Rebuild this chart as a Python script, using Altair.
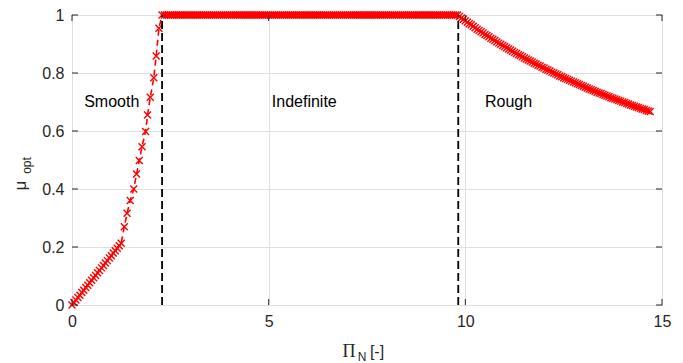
import altair as alt
import pandas as pd

# ---- data ----
smooth_x = [0.00, 0.05, 0.10, 0.15, 0.20, 0.25, 0.30, 0.35, 0.40, 0.45, 0.50, 0.55, 0.60,
            0.65, 0.70, 0.75, 0.80, 0.85, 0.90, 0.95, 1.00, 1.05, 1.10, 1.15, 1.20, 1.25,
            1.33, 1.40, 1.48, 1.57, 1.64, 1.71, 1.78, 1.87, 1.92, 1.99, 2.08, 2.14, 2.21]
smooth_y = [0.000, 0.009, 0.017, 0.026, 0.034, 0.043, 0.051, 0.060, 0.068, 0.077, 0.085,
            0.094, 0.102, 0.111, 0.119, 0.128, 0.136, 0.145, 0.153, 0.162, 0.170, 0.179,
            0.187, 0.196, 0.204, 0.213,
            0.270, 0.316, 0.360, 0.400, 0.452, 0.498, 0.546, 0.598, 0.655, 0.716, 0.784,
            0.859, 0.954]

flat_x = [2.29, 2.4, 2.5, 2.6, 2.7, 2.8, 2.9, 3.0, 3.1, 3.2, 3.3, 3.4, 3.5, 3.6, 3.7, 3.8,
          3.9, 4.0, 4.1, 4.2, 4.3, 4.4, 4.5, 4.6, 4.7, 4.8, 4.9, 5.0, 5.1, 5.2, 5.3, 5.4,
          5.5, 5.6, 5.7, 5.8, 5.9, 6.0, 6.1, 6.2, 6.3, 6.4, 6.5, 6.6, 6.7, 6.8, 6.9, 7.0,
          7.1, 7.2, 7.3, 7.4, 7.5, 7.6, 7.7, 7.8, 7.9, 8.0, 8.1, 8.2, 8.3, 8.4, 8.5, 8.6,
          8.7, 8.8, 8.9, 9.0, 9.1, 9.2, 9.3, 9.4, 9.5, 9.6, 9.7, 9.8,
          2.35, 2.45, 2.55, 2.65, 2.75, 2.85, 2.95, 3.05, 3.15, 3.25, 3.35, 3.45, 3.55,
          3.65, 3.75, 3.85, 3.95, 4.05, 4.15, 4.25, 4.35, 4.45, 4.55, 4.65, 4.75, 4.85,
          4.95, 5.05, 5.15, 5.25, 5.35, 5.45, 5.55, 5.65, 5.75, 5.85, 5.95, 6.05, 6.15,
          6.25, 6.35, 6.45, 6.55, 6.65, 6.75, 6.85, 6.95, 7.05, 7.15, 7.25, 7.35, 7.45,
          7.55, 7.65, 7.75, 7.85, 7.95, 8.05, 8.15, 8.25, 8.35, 8.45, 8.55, 8.65, 8.75,
          8.85, 8.95, 9.05, 9.15, 9.25, 9.35, 9.45, 9.55, 9.65, 9.75]
flat_y = [1.0] * len(flat_x)

rough_x = [9.9, 10.0, 10.1, 10.2, 10.3, 10.4, 10.5, 10.6, 10.7, 10.8, 10.9, 11.0, 11.1,
           11.2, 11.3, 11.4, 11.5, 11.6, 11.7, 11.8, 11.9, 12.0, 12.1, 12.2, 12.3, 12.4,
           12.5, 12.6, 12.7, 12.8, 12.9, 13.0, 13.1, 13.2, 13.3, 13.4, 13.5, 13.6, 13.7,
           13.8, 13.9, 14.0, 14.1, 14.2, 14.3, 14.4, 14.5, 14.6, 14.7,
           9.85, 9.95, 10.05, 10.15, 10.25, 10.35, 10.45, 10.55, 10.65, 10.75, 10.85,
           10.95, 11.05, 11.15, 11.25, 11.35, 11.45, 11.55, 11.65, 11.75, 11.85, 11.95,
           12.05, 12.15, 12.25, 12.35, 12.45, 12.55, 12.65, 12.75, 12.85, 12.95, 13.05,
           13.15, 13.25, 13.35, 13.45, 13.55, 13.65, 13.75, 13.85, 13.95, 14.05, 14.15,
           14.25, 14.35, 14.45, 14.55, 14.65]
rough_y = [0.990, 0.980, 0.970, 0.961, 0.951, 0.942, 0.933, 0.925, 0.916, 0.907, 0.899,
           0.891, 0.883, 0.875, 0.867, 0.860, 0.852, 0.845, 0.838, 0.831, 0.824, 0.817,
           0.810, 0.803, 0.797, 0.790, 0.784, 0.778, 0.772, 0.766, 0.760, 0.754, 0.748,
           0.742, 0.737, 0.731, 0.726, 0.721, 0.715, 0.710, 0.705, 0.700, 0.695, 0.690,
           0.685, 0.681, 0.676, 0.671, 0.667,
           0.995, 0.985, 0.975, 0.966, 0.956, 0.947, 0.938, 0.929, 0.920, 0.912, 0.903,
           0.895, 0.887, 0.879, 0.871, 0.863, 0.856, 0.848, 0.841, 0.834, 0.827, 0.820,
           0.813, 0.807, 0.800, 0.794, 0.787, 0.781, 0.775, 0.769, 0.763, 0.757, 0.751,
           0.745, 0.740, 0.734, 0.729, 0.723, 0.718, 0.713, 0.708, 0.703, 0.698, 0.693,
           0.688, 0.683, 0.678, 0.674, 0.669]

boundary_x = [2.29, 9.82]
region_labels = ["Smooth", "Indefinite", "Rough"]
region_x = [0.31, 5.08, 10.5]
region_y = [0.70, 0.70, 0.70]

x_ticks = [0, 5, 10, 15]
y_ticks = [0, 0.2, 0.4, 0.6, 0.8, 1.0]

W, H = 590, 290
FONT = "Liberation Sans"
DARK = "#262626"

series = pd.DataFrame({
    "x": smooth_x + flat_x + rough_x,
    "y": smooth_y + flat_y + rough_y,
}).sort_values("x").reset_index(drop=True)

xs = alt.Scale(domain=[0, 15], nice=False)
ys = alt.Scale(domain=[0, 1], nice=False)

AX = dict(labelFont=FONT, labelFontSize=16, labelColor=DARK, ticks=False, domain=False,
          grid=True, gridColor="#e0e0e0", gridWidth=1, labelPadding=8, format="~g",
          labelFlush=False)

base = alt.Chart(series)

line = base.mark_line(color="red", strokeWidth=1.6, strokeDash=[6, 4]).encode(
    x=alt.X("x:Q", scale=xs, axis=alt.Axis(values=x_ticks, title=None, **AX)),
    y=alt.Y("y:Q", scale=ys, axis=alt.Axis(
        values=y_ticks, title="μ", titleFont=FONT, titleFontSize=17,
        titleFontWeight="normal", titleColor=DARK, titleAngle=270,
        titleX=-52, titleY=170, titleAlign="center", titleBaseline="middle", **AX)),
)

points = base.mark_point(
    shape="M-1,-1L1,1M1,-1L-1,1", color="red", size=49, strokeWidth=1.4,
    filled=False, opacity=1,
).encode(x=alt.X("x:Q", scale=xs), y=alt.Y("y:Q", scale=ys))

bounds = alt.Chart(pd.DataFrame({"x": boundary_x, "y0": [0, 0], "y1": [1, 1]})).mark_rule(
    color="black", strokeWidth=1.8, strokeDash=[8, 4]
).encode(x=alt.X("x:Q", scale=xs), y=alt.Y("y0:Q", scale=ys), y2="y1:Q")

labels = alt.Chart(pd.DataFrame({"t": region_labels, "x": region_x, "y": region_y})).mark_text(
    align="left", baseline="middle", font=FONT, fontSize=16, color="black"
).encode(x=alt.X("x:Q", scale=xs), y=alt.Y("y:Q", scale=ys), text="t:N")

# inward ticks on all four sides
xt = pd.DataFrame({"v": x_ticks})
yt = pd.DataFrame({"v": y_ticks})
tick_bottom = alt.Chart(xt).mark_rule(color=DARK, strokeWidth=1).encode(
    x=alt.X("v:Q", scale=xs), y=alt.value(H), y2=alt.value(H - 6))
tick_top = alt.Chart(xt).mark_rule(color=DARK, strokeWidth=1).encode(
    x=alt.X("v:Q", scale=xs), y=alt.value(0), y2=alt.value(6))
tick_left = alt.Chart(yt).mark_rule(color=DARK, strokeWidth=1).encode(
    y=alt.Y("v:Q", scale=ys), x=alt.value(0), x2=alt.value(6))
tick_right = alt.Chart(yt).mark_rule(color=DARK, strokeWidth=1).encode(
    y=alt.Y("v:Q", scale=ys), x=alt.value(W), x2=alt.value(W - 6))

# x-axis title with subscript
one = pd.DataFrame({"d": [0]})
def txt(s, px, py, size, font=FONT, align="center", baseline="alphabetic"):
    return alt.Chart(one).mark_text(
        text=s, font=font, fontSize=size, color=DARK, align=align, baseline=baseline,
    ).encode(x=alt.value(px), y=alt.value(py))

xt_pi = txt("Π", 277, 342, 18, font="Liberation Serif")
xt_n = txt("N", 290, 346, 12)
xt_br = txt("[-]", 305, 342, 16)

main = alt.layer(
    line, points, bounds, labels,
    tick_bottom, tick_top, tick_left, tick_right,
    xt_pi, xt_n, xt_br,
)

# subscript of the y title, carried by a second (title-only) left axis
opt_layer = alt.Chart(one).mark_point(opacity=0).encode(
    y=alt.Y("d:Q", scale=alt.Scale(domain=[0, 1]), axis=alt.Axis(
        orient="left", title="opt", labels=False, ticks=False, domain=False, grid=False,
        titleFont=FONT, titleFontSize=12, titleFontWeight="normal", titleColor=DARK,
        titleAngle=270, titleX=-46, titleY=150, titleAlign="center",
        titleBaseline="middle", offset=0)),
)

chart = alt.layer(main, opt_layer).resolve_scale(y="independent").properties(
    width=W, height=H,
    autosize=alt.AutoSizeParams(type="none"),
    padding={"left": 72, "top": 15, "right": 21, "bottom": 58},
    background="white",
).configure_view(
    stroke=DARK, strokeWidth=1,
)

chart.save("out.html", embed_options={"renderer": "svg", "actions": False})
